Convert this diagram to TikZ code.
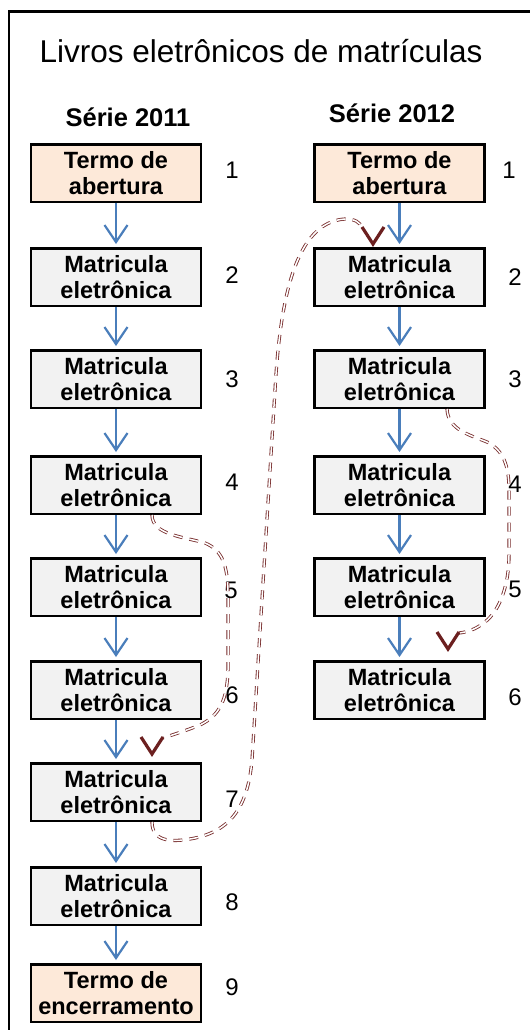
\documentclass[tikz,border=0pt]{standalone}
\usepackage{fontspec}
\setmainfont{Liberation Sans}
\usetikzlibrary{arrows.meta,calc}
\definecolor{boxgray}{RGB}{242,242,242}
\definecolor{peach}{RGB}{253,233,217}
\definecolor{flowblue}{RGB}{74,126,187}
\definecolor{curvered}{RGB}{120,45,45}
\definecolor{barbred}{RGB}{108,32,32}
\begin{document}
\begin{tikzpicture}[x=1pt,y=-1pt,
  box/.style={draw=black, line width=2.5pt, minimum width=170pt, minimum height=57.5pt, inner sep=0pt, align=center, font=\fontsize{23.5}{26.5}\selectfont\bfseries},
  rec/.style={box, fill=boxgray},
  term/.style={box, fill=peach},
  num/.style={anchor=base, inner sep=0pt, font=\fontsize{24}{28}\selectfont},
  heading/.style={anchor=base, inner sep=0pt, font=\fontsize{25.5}{30}\selectfont\bfseries},
  flow/.style={draw=flowblue, line width=2.2pt, -{Straight Barb[length=17pt,width=23pt]}, shorten >=3pt},
  jump/.style={draw=curvered, line width=0.85pt, double=white, double distance=1.5pt, dash pattern=on 9pt off 7pt},
  barb/.style={draw=barbred, line width=3.2pt, line join=miter},
]
\useasboundingbox (0,0) rectangle (530,1030);
\fill[white] (0,0) rectangle (530,1030);
\draw[line width=2.7pt] (9,1030) -- (9,11.5) -- (530,11.5);

\node[anchor=base, inner sep=0pt, font=\fontsize{31.5}{36}\selectfont] (title) at (261,63) {Livros eletrônicos de matrículas};
\node[heading] (s11) at (128,127) {Série 2011};
\node[heading] (s12) at (392,123) {Série 2012};

% left column
\node[term] (L1) at (116,173) {Termo de\\abertura};
\node[rec] (L2) at (116,277) {Matricula\\eletrônica};
\node[rec] (L3) at (116,379) {Matricula\\eletrônica};
\node[rec] (L4) at (116,485) {Matricula\\eletrônica};
\node[rec] (L5) at (116,587) {Matricula\\eletrônica};
\node[rec] (L6) at (116,690) {Matricula\\eletrônica};
\node[rec] (L7) at (116,792) {Matricula\\eletrônica};
\node[rec] (L8) at (116,896) {Matricula\\eletrônica};
\node[term] (L9) at (116,993) {Termo de\\encerramento};

% right column
\node[term] (R1) at (399.5,173) {Termo de\\abertura};
\node[rec] (R2) at (399.5,277) {Matricula\\eletrônica};
\node[rec] (R3) at (399.5,379) {Matricula\\eletrônica};
\node[rec] (R4) at (399.5,485) {Matricula\\eletrônica};
\node[rec] (R5) at (399.5,587) {Matricula\\eletrônica};
\node[rec] (R6) at (399.5,690) {Matricula\\eletrônica};

% numbers
\node[num] (nL1) at (232,178) {1};
\node[num] (nL2) at (232,283) {2};
\node[num] (nL3) at (232,387) {3};
\node[num] (nL4) at (232,490) {4};
\node[num] (nL5) at (231,598) {5};
\node[num] (nL6) at (232,703) {6};
\node[num] (nL7) at (232,807) {7};
\node[num] (nL8) at (232,910) {8};
\node[num] (nL9) at (232,995) {9};
\node[num] (nR1) at (509,178) {1};
\node[num] (nR2) at (515,285) {2};
\node[num] (nR3) at (515,387) {3};
\node[num] (nR4) at (515,492) {4};
\node[num] (nR5) at (515,597) {5};
\node[num] (nR6) at (515,705) {6};

% flow arrows
\foreach \a/\b in {L1/L2,L2/L3,L3/L4,L4/L5,L5/L6,L6/L7,L7/L8,L8/L9,R1/R2,R2/R3,R3/R4,R4/R5,R5/R6}
  \draw[flow] (\a) -- (\b);

% dashed jumps
\coordinate (tA) at (152,754);
\coordinate (tB) at (373,244);
\coordinate (tC) at (448,649);

\draw[jump] ($(L4.south)+(36,0)$) .. controls (152,535) and (185,537) .. (205,543)
  .. controls (222,550) and (228,565) .. (228,595) -- (228,670)
  .. controls (227,700) and (220,715) .. (200,725)
  .. controls (185,731) and (172,735) .. ($(tA)+(11,-16)$);
\draw[barb] ($(tA)+(-11,-17)$) -- (tA) -- ($(tA)+(11,-17)$);

\draw[jump] ($(L7.south)+(36,0)$) .. controls (152,842) and (172,842) .. (190,839)
  .. controls (232,832) and (248,805) .. (252,760) -- (275,390)
  .. controls (280,300) and (295,222) .. (345,219)
  .. controls (355,219) and (360,222) .. ($(tB)+(-11,-16)$);
\draw[barb] ($(tB)+(-11,-17)$) -- (tB) -- ($(tB)+(11,-17)$);

\draw[jump] ($(R3.south)+(47.5,0)$) .. controls (448,430) and (470,435) .. (487,442)
  .. controls (503,450) and (509,465) .. (509,490) -- (509,555)
  .. controls (509,585) and (500,610) .. (485,622)
  .. controls (475,630) and (467,632) .. ($(tC)+(11,-16)$);
\draw[barb] ($(tC)+(-11,-17)$) -- (tC) -- ($(tC)+(11,-17)$);
\end{tikzpicture}
\end{document}
